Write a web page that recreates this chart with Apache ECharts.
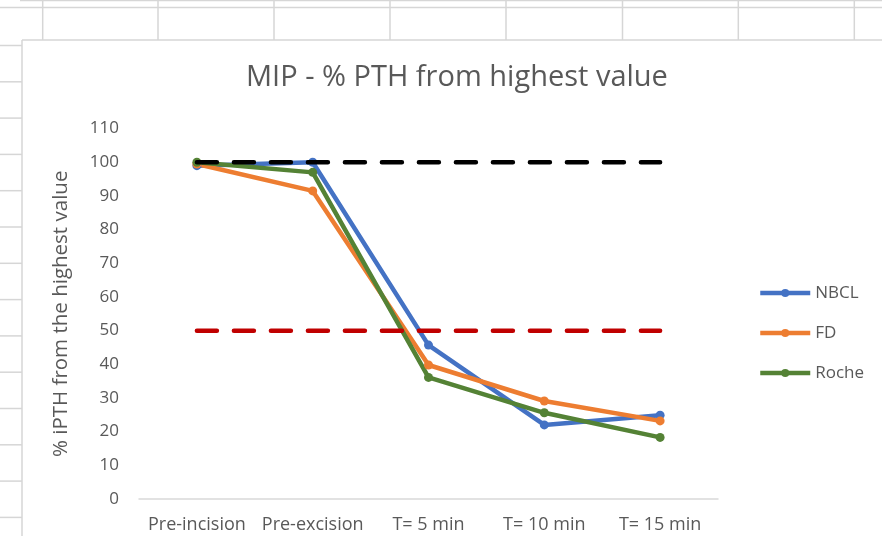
<!DOCTYPE html>
<html>
<head>
<meta charset="utf-8">
<script src="https://cdn.jsdelivr.net/npm/echarts@6/dist/echarts.min.js"></script>
<style>
  html, body { margin: 0; padding: 0; background: #ffffff; }
  #chart { width: 882px; height: 536px; }
</style>
</head>
<body>
<div id="chart"></div>
<script>
// Time points of the intra-operative PTH measurements
const categories = ['Pre-incision', 'Pre-excision', 'T= 5 min', 'T= 10 min', 'T= 15 min'];

// % iPTH relative to the highest value, per assay
const nbcl  = [99, 100, 45.7, 22, 24.9];
const fd    = [99.5, 91.5, 39.8, 29.1, 23.2];
const roche = [100, 97, 36.1, 25.6, 18.3];

// Reference levels (100 % and the 50 % drop criterion)
const refTop  = [100, 100, 100, 100, 100];
const refHalf = [50, 50, 50, 50, 50];

// y-axis ticks
const yTicks = { min: 0, max: 110, step: 10 };

const textGray = '#595959';
const font = 'Open Sans';
const cellLine = '#d6d6d6';

// Worksheet cell borders around the embedded chart
const sheet = [];
function hLine(x1, x2, y, w) {
  sheet.push({ type: 'line', silent: true, z: -10,
    shape: { x1: x1, y1: y, x2: x2, y2: y },
    style: { stroke: cellLine, lineWidth: w || 1.5 } });
}
function vLine(x, y1, y2, w) {
  sheet.push({ type: 'line', silent: true, z: -10,
    shape: { x1: x, y1: y1, x2: x, y2: y2 },
    style: { stroke: cellLine, lineWidth: w || 1.5 } });
}
hLine(20, 882, 0.5);
hLine(0, 882, 7.5);
[42.7, 158, 274, 390, 506, 622.5, 738.3, 854.3].forEach(function (x) { vLine(x, 0, 40); });
hLine(22, 882, 40);
vLine(22, 40, 536);
for (let y = 45.5; y < 536; y += 36.3) hLine(0, 22, y);

function dataSeries(name, color, values) {
  return {
    name: name,
    type: 'line',
    data: values,
    symbol: 'circle',
    symbolSize: 9,
    lineStyle: { color: color, width: 4.5 },
    itemStyle: { color: color },
    z: 3
  };
}
function refSeries(name, color, values) {
  return {
    name: name,
    type: 'line',
    data: values,
    symbol: 'none',
    lineStyle: { color: color, width: 4.5, type: [20, 17], cap: 'round' },
    itemStyle: { color: color },
    emphasis: { disabled: true },
    z: 4
  };
}

const chart = echarts.init(document.getElementById('chart'));
chart.setOption({
  animation: false,
  backgroundColor: '#ffffff',
  graphic: sheet,
  title: {
    text: 'MIP - % PTH from highest value',
    left: 241,
    top: 58,
    textStyle: { color: textGray, fontFamily: font, fontSize: 29, fontWeight: 'normal' }
  },
  legend: {
    orient: 'vertical',
    left: 753,
    top: 278,
    itemWidth: 50,
    itemHeight: 10,
    itemGap: 20,
    data: ['NBCL', 'FD', 'Roche'],
    lineStyle: { width: 4.5 },
    textStyle: { color: textGray, fontFamily: font, fontSize: 17, lineHeight: 20 }
  },
  grid: { left: 139, right: 164, top: 128.6, bottom: 37 },
  xAxis: {
    type: 'category',
    data: categories,
    boundaryGap: true,
    axisLine: { lineStyle: { color: '#d9d9d9', width: 1.5 } },
    axisTick: { show: false },
    axisLabel: { color: textGray, fontFamily: font, fontSize: 18, margin: 17, interval: 0 },
    splitLine: { show: false }
  },
  yAxis: {
    type: 'value',
    min: yTicks.min,
    max: yTicks.max,
    interval: yTicks.step,
    name: '% iPTH from the highest value',
    nameLocation: 'middle',
    nameRotate: 90,
    nameGap: 67,
    nameTextStyle: { color: textGray, fontFamily: font, fontSize: 20.5 },
    axisLine: { show: false },
    axisTick: { show: false },
    splitLine: { show: false },
    axisLabel: { color: textGray, fontFamily: font, fontSize: 17, margin: 20 }
  },
  series: [
    dataSeries('NBCL', '#4472C4', nbcl),
    dataSeries('FD', '#ED7D31', fd),
    dataSeries('Roche', '#548235', roche),
    refSeries('100 %', '#000000', refTop),
    refSeries('50 %', '#C00000', refHalf)
  ]
});
</script>
</body>
</html>
